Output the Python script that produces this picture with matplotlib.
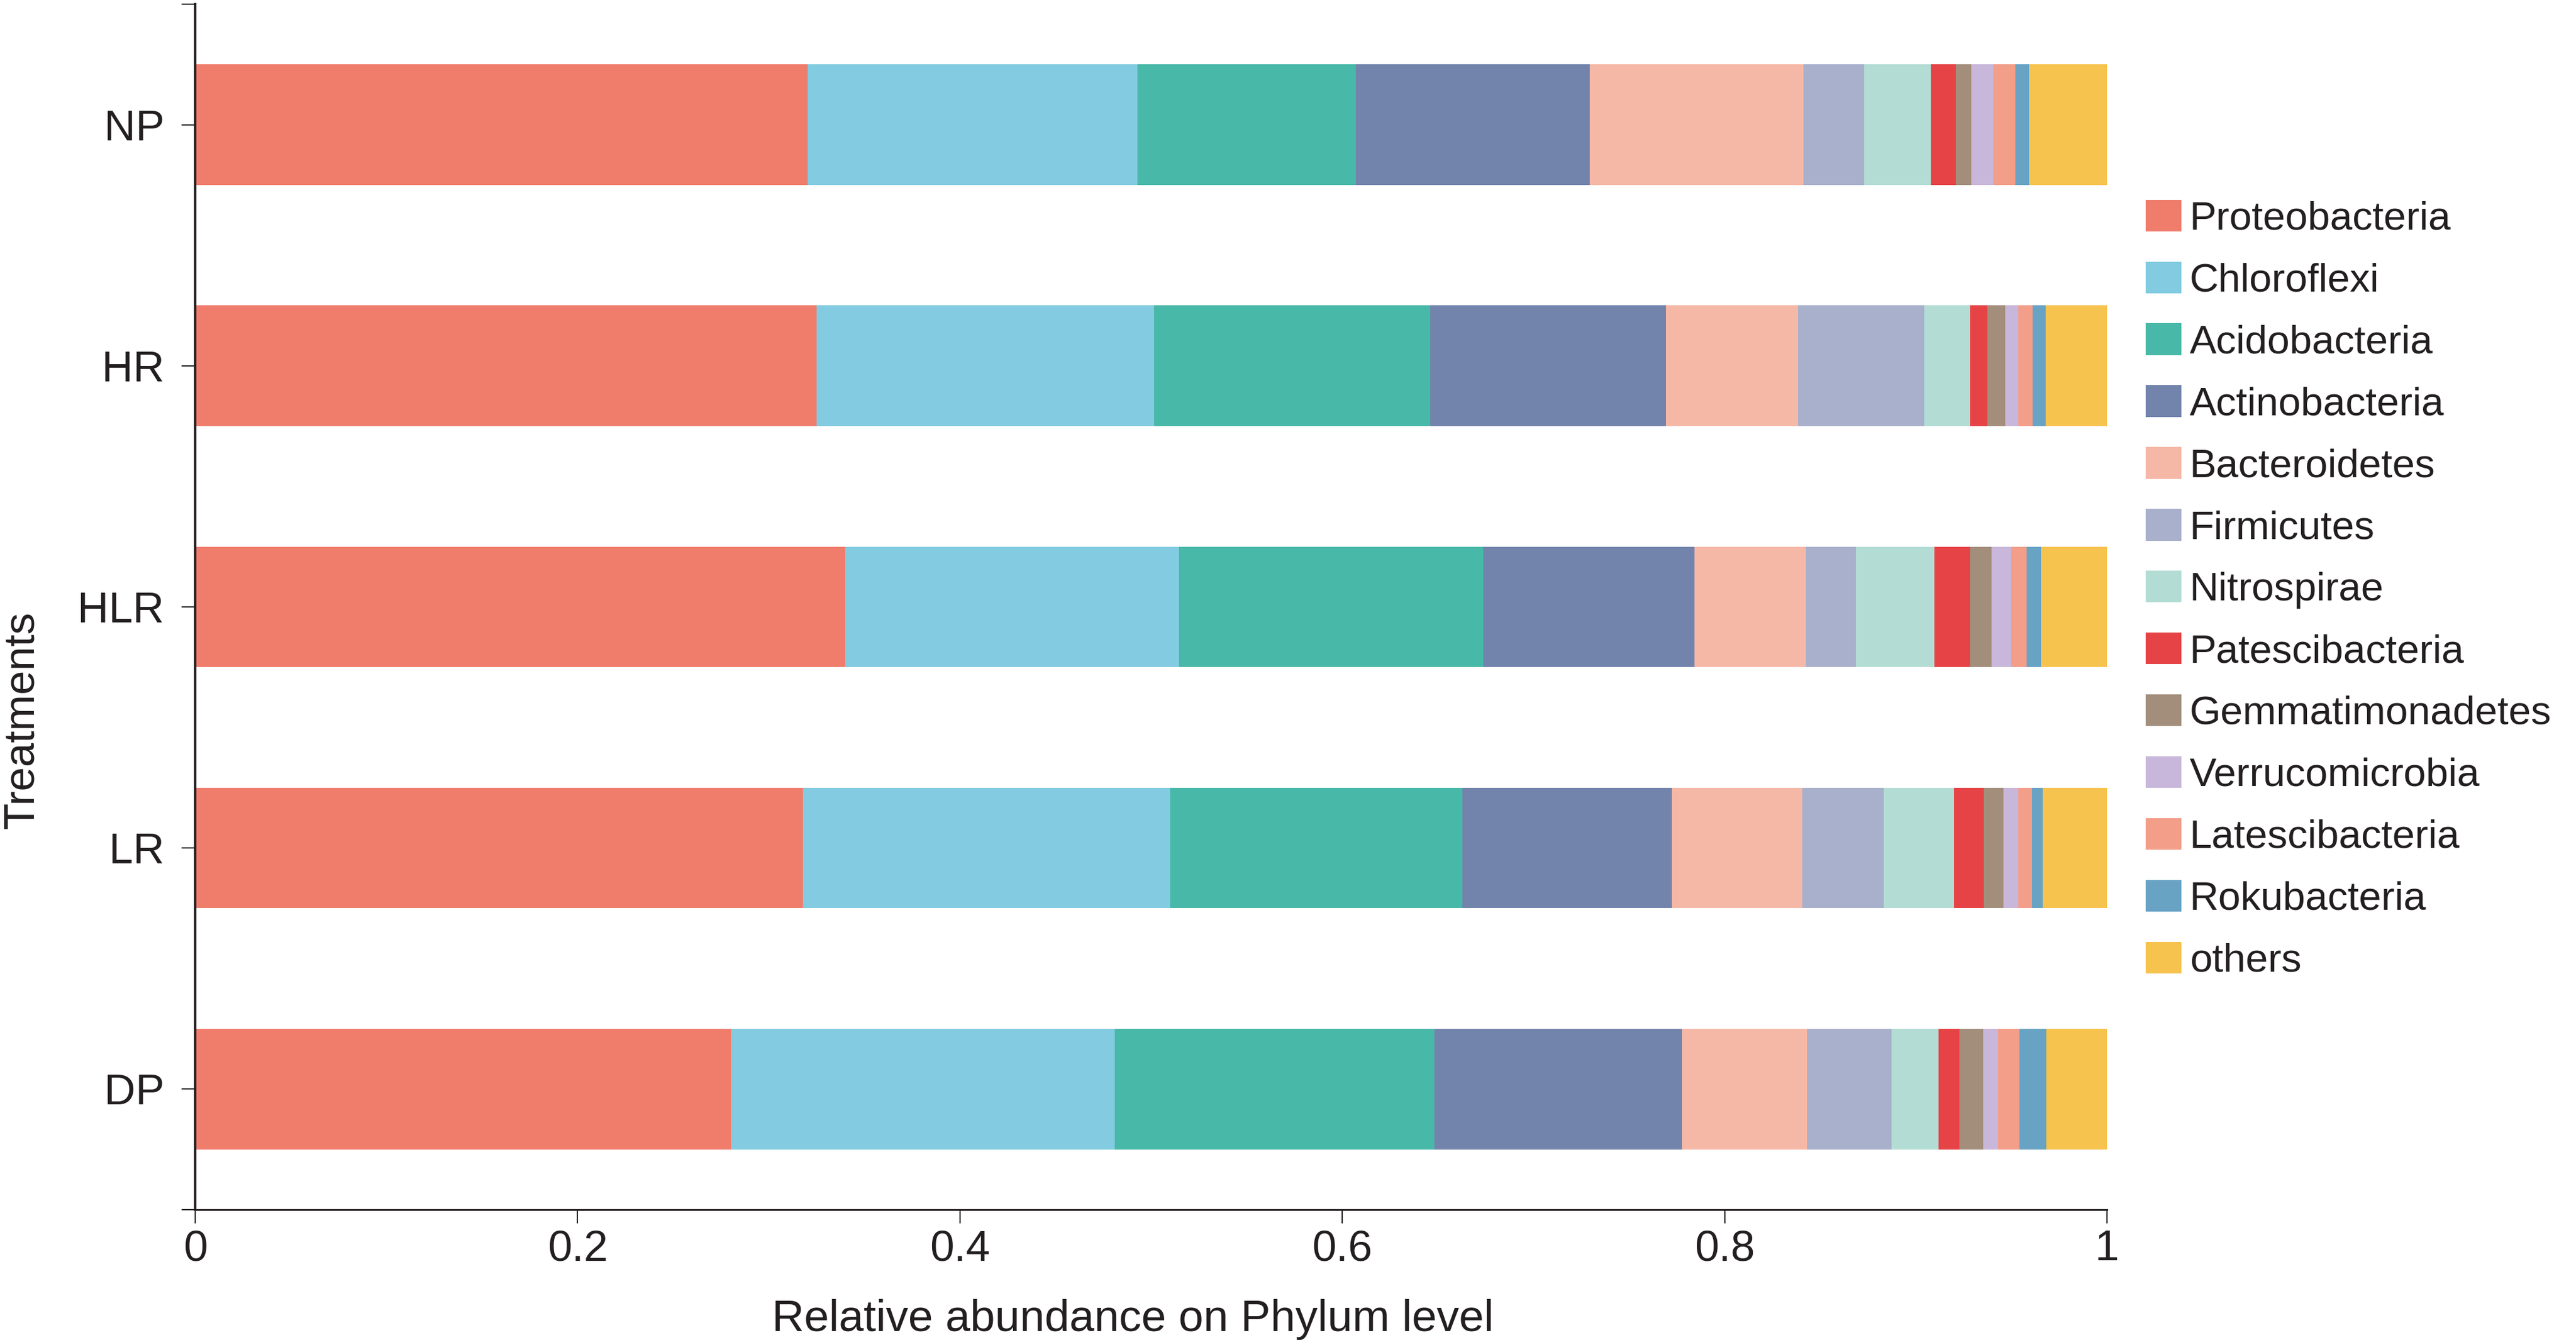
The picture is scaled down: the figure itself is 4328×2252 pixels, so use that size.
import numpy as np
import matplotlib
matplotlib.use("Agg")
import matplotlib.pyplot as plt
from matplotlib.ticker import FixedLocator

plt.rcParams['font.family'] = ['Liberation Sans', 'DejaVu Sans']

treatments = ["NP", "HR", "HLR", "LR", "DP"]
phyla = ["Proteobacteria", "Chloroflexi", "Acidobacteria", "Actinobacteria",
         "Bacteroidetes", "Firmicutes", "Nitrospirae", "Patescibacteria",
         "Gemmatimonadetes", "Verrucomicrobia", "Latescibacteria",
         "Rokubacteria", "others"]

# relative abundance per phylum, one row per treatment (NP, HR, HLR, LR, DP)
np_vals = [0.3205, 0.1722, 0.1144, 0.1223, 0.1118, 0.0317, 0.0349, 0.0131, 0.0083, 0.0115, 0.0114, 0.0071, 0.0408]
hr_vals = [0.3251, 0.1766, 0.1444, 0.1233, 0.0690, 0.0662, 0.0238, 0.0091, 0.0093, 0.0070, 0.0072, 0.0071, 0.0319]
hlr_vals = [0.3401, 0.1744, 0.1591, 0.1108, 0.0582, 0.0259, 0.0414, 0.0185, 0.0112, 0.0103, 0.0081, 0.0076, 0.0344]
lr_vals = [0.3180, 0.1919, 0.1530, 0.1094, 0.0682, 0.0429, 0.0365, 0.0158, 0.0103, 0.0078, 0.0070, 0.0057, 0.0335]
dp_vals = [0.2801, 0.2008, 0.1673, 0.1294, 0.0656, 0.0442, 0.0246, 0.0108, 0.0124, 0.0080, 0.0111, 0.0141, 0.0316]

colors = ["#F07C6C", "#82CBE0", "#48B8A8", "#7284AC", "#F6B8A6", "#A8B0CB",
          "#B3DDD4", "#E64346", "#A38E7B", "#C8B7DA", "#F29E89", "#68A3C4",
          "#F7C34F"]

text_color = "#231f20"

data = np.array([np_vals, hr_vals, hlr_vals, lr_vals, dp_vals])

fig = plt.figure(figsize=(4328 / 300, 2252 / 300), dpi=300)
ax = fig.add_axes([0.0758, 0.0973, 0.7421, 0.8996])

ypos = np.arange(len(treatments))
left = np.zeros(len(treatments))
for i, name in enumerate(phyla):
    ax.barh(ypos, data[:, i], left=left, height=0.5, color=colors[i],
            linewidth=0, label=name)
    left += data[:, i]

ax.set_xlim(0, 1)
ax.set_ylim(4.5, -0.5)
ax.set_yticks(ypos)
ax.set_yticklabels(treatments)
ax.yaxis.set_minor_locator(FixedLocator([-0.5, 4.5]))
ax.set_xticks([0, 0.2, 0.4, 0.6, 0.8, 1.0])
ax.set_xticklabels(["0", "0.2", "0.4", "0.6", "0.8", "1"])

for s in ["top", "right"]:
    ax.spines[s].set_visible(False)
ax.spines["left"].set_linewidth(0.95)
ax.spines["bottom"].set_linewidth(0.7)
ax.spines["left"].set_color(text_color)
ax.spines["bottom"].set_color(text_color)

ax.tick_params(axis="both", which="both", length=5.5, width=0.5,
               color=text_color, labelcolor=text_color, labelsize=17.5)
ax.tick_params(axis="y", which="major", pad=7)
ax.tick_params(axis="x", which="major", pad=2.5)

ax.set_xlabel("Relative abundance on Phylum level", fontsize=18,
              color=text_color, labelpad=12)
ax.xaxis.label.set_x(0.4905)
ax.set_ylabel("Treatments", fontsize=17.5, color=text_color)
ax.yaxis.set_label_coords(-0.08, 0.406)

leg = fig.legend(loc="center left", bbox_to_anchor=(0.8330, 0.5599),
                 frameon=False, fontsize=16.2, borderpad=0, borderaxespad=0,
                 handlelength=0.89, handleheight=0.84, handletextpad=0.2,
                 labelspacing=0.59)
for t in leg.get_texts():
    t.set_color(text_color)

fig.savefig("out.png", dpi=300, facecolor="white")
